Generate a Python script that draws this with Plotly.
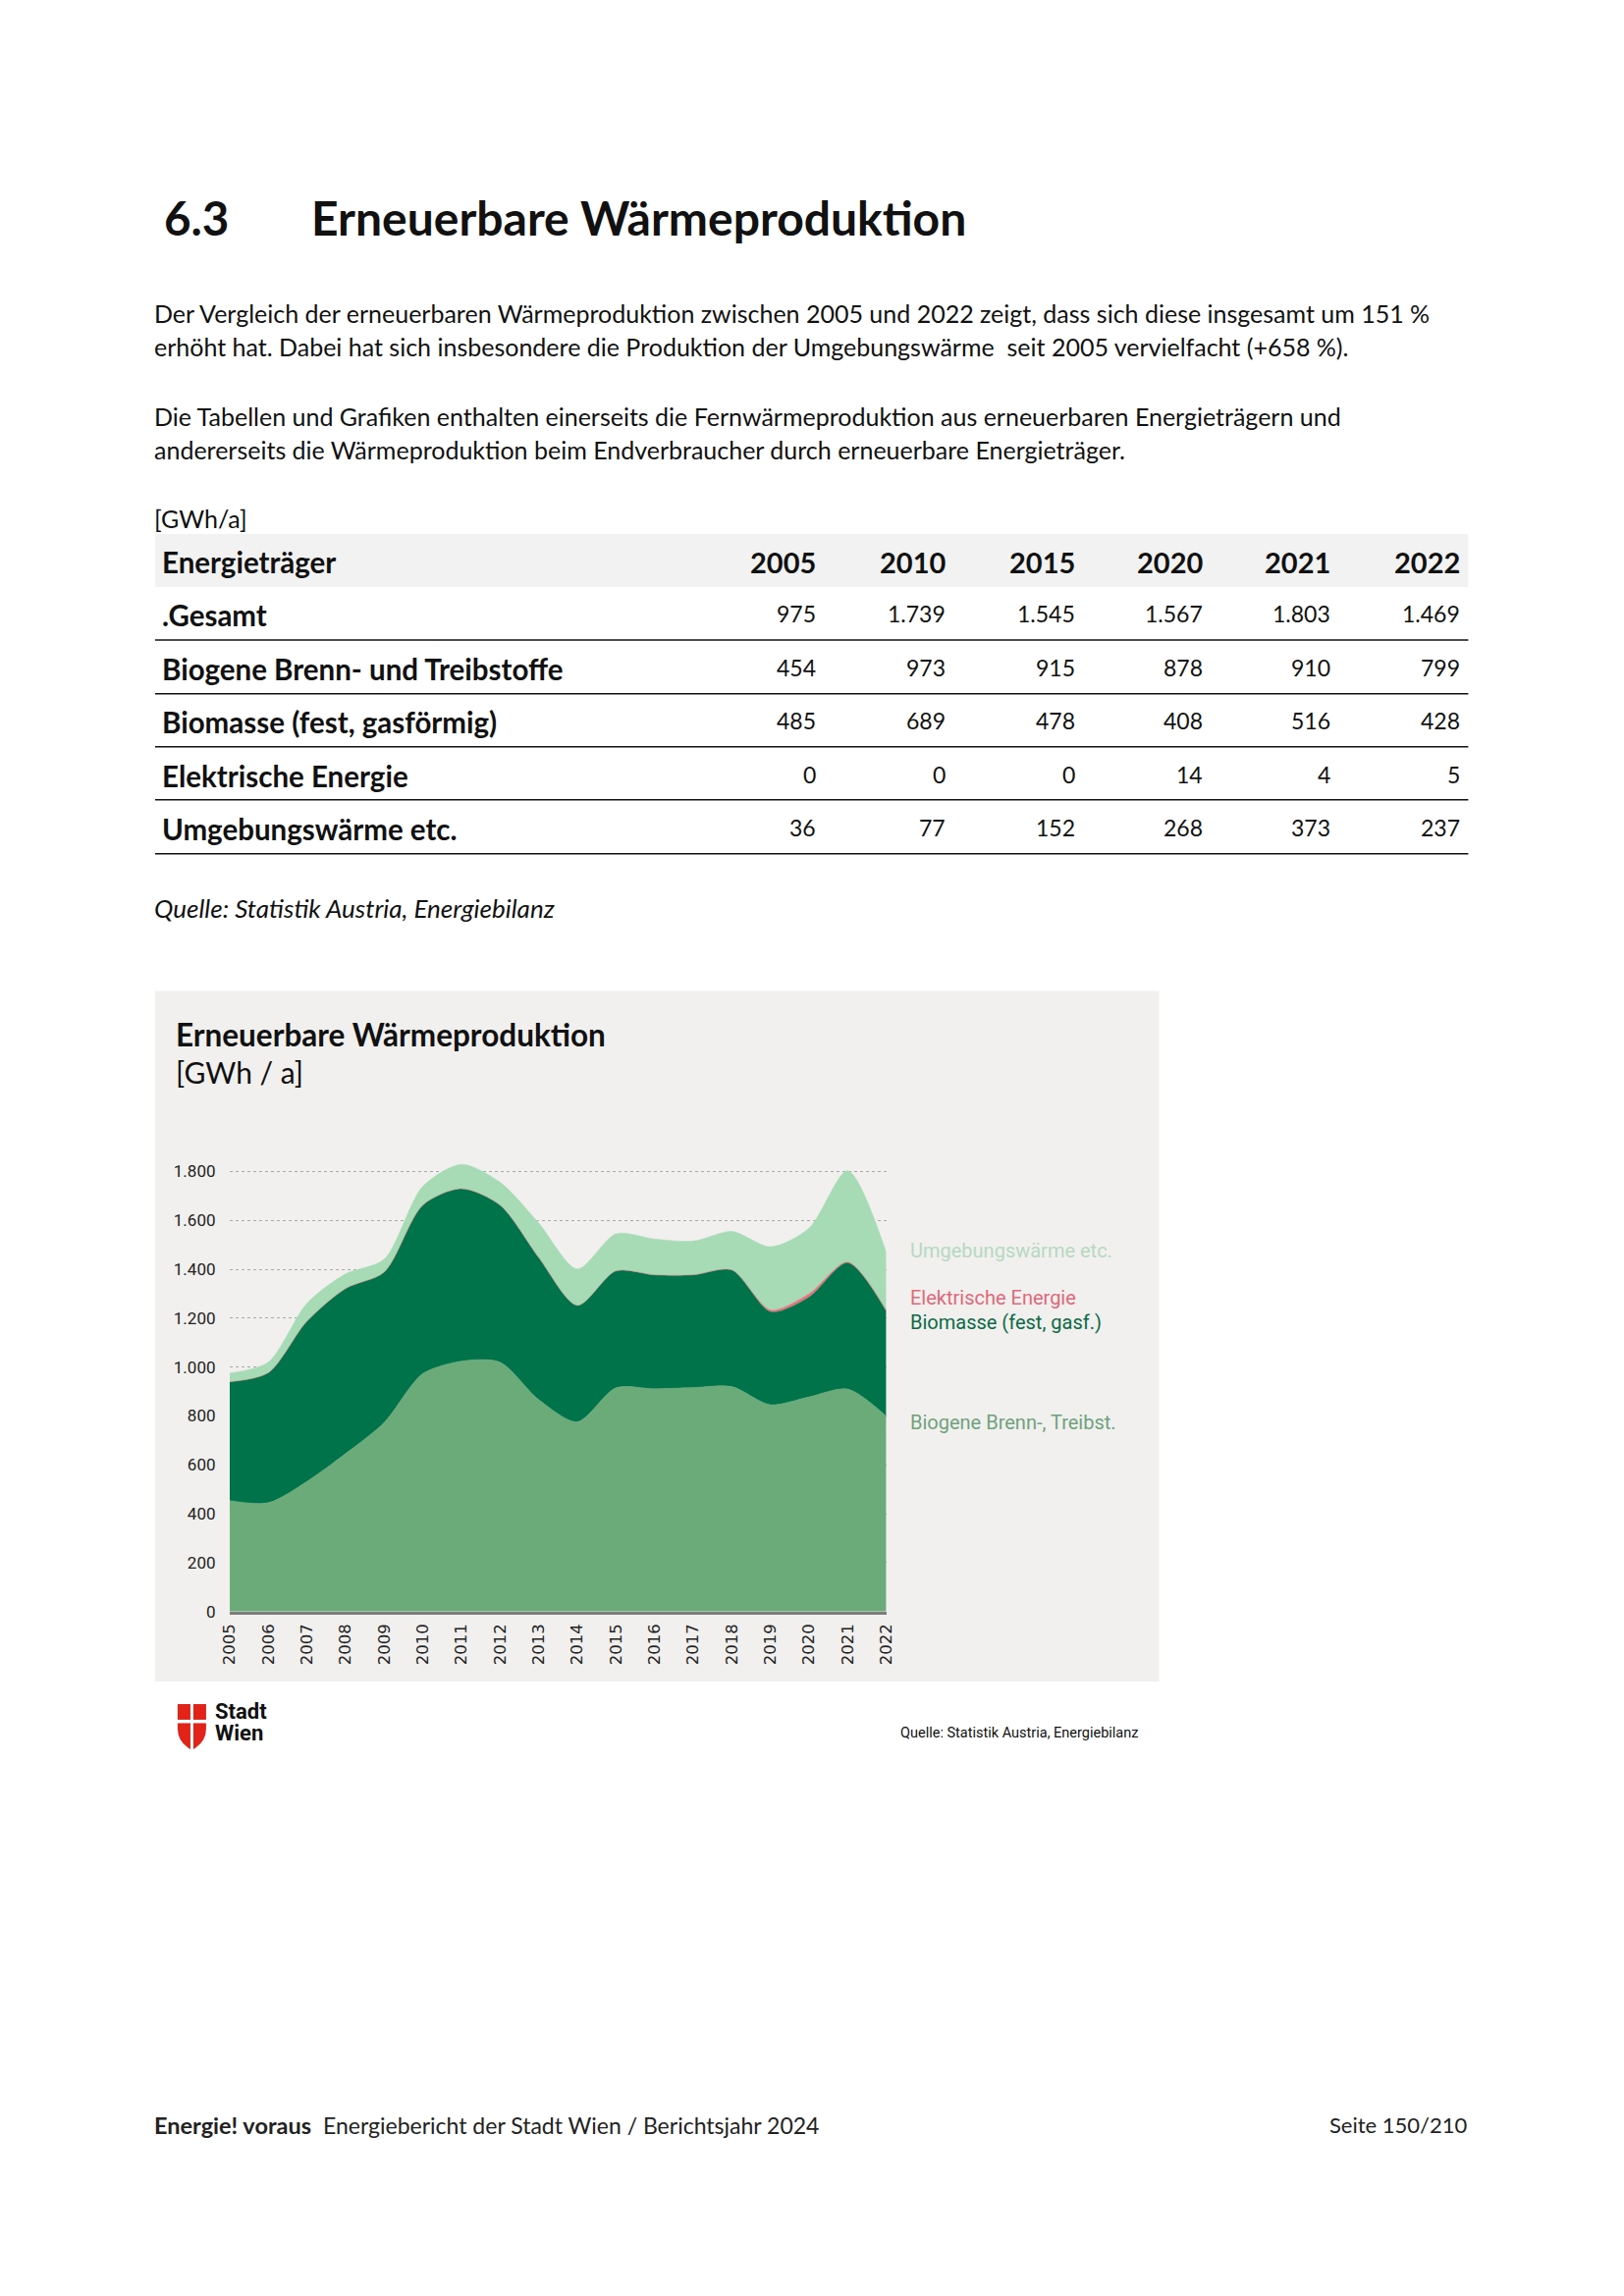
import plotly.graph_objects as go

W, H = 1654, 2339
OFF = 8
FW, FH = W - 2 * OFF, H - 2 * OFF

# measured page placement of the figure (offset / scale) used to map page pixels
SX, OX = 0.9888, 18.0
SY, OY = 0.9966, 7.5

# ---------------- data ----------------
years = list(range(2005, 2023))
biogene = [454, 445, 532, 646, 773, 973, 1024, 1020, 867, 776, 915, 911, 916, 920, 846, 878, 910, 799]
biomasse = [485, 531, 655, 675, 615, 689, 705, 642, 581, 476, 478, 466, 461, 477, 380, 408, 516, 428]
elektrisch = [0, 0, 0, 0, 0, 0, 0, 0, 0, 0, 0, 0, 0, 0, 8, 14, 4, 5]
umgebung = [36, 44, 74, 60, 53, 77, 100, 94, 141, 149, 152, 147, 138, 158, 258, 268, 373, 237]

table_years = ["2005", "2010", "2015", "2020", "2021", "2022"]
table_rows = [".Gesamt", "Biogene Brenn- und Treibstoffe", "Biomasse (fest, gasförmig)",
              "Elektrische Energie", "Umgebungswärme etc."]
gesamt = [975, 1739, 1545, 1567, 1803, 1469]
t_biogene = [454, 973, 915, 878, 910, 799]
t_biomasse = [485, 689, 478, 408, 516, 428]
t_elektrisch = [0, 0, 0, 14, 4, 5]
t_umgebung = [36, 77, 152, 268, 373, 237]
table_values = [gesamt, t_biogene, t_biomasse, t_elektrisch, t_umgebung]

y_ticks = [0, 200, 400, 600, 800, 1000, 1200, 1400, 1600, 1800]

# ---------------- helpers ----------------
def px(x):
    return ((x - OX) / SX) / FW

def py(y):
    return 1 - ((y - OY) / SY) / FH

DOC = "Lato, 'Noto Sans', sans-serif"
NARROW = "Roboto, sans-serif"

annotations = []
shapes = []

def text(x, y, s, size, color="#111111", bold=False, anchor="left", family=DOC, italic=False):
    if bold:
        s = "<b>" + s + "</b>"
    if italic:
        s = "<i>" + s + "</i>"
    annotations.append(dict(
        x=px(x), y=py(y), xref="paper", yref="paper", text=s, showarrow=False,
        xanchor=anchor, yanchor="middle", font=dict(size=size, color=color, family=family),
        borderpad=0))

def rect(x0, y0, x1, y1, color, layer="below"):
    shapes.append(dict(type="rect", xref="paper", yref="paper", x0=px(x0), y0=py(y1),
                       x1=px(x1), y1=py(y0), fillcolor=color, line=dict(width=0), layer=layer))

def hline(x0, x1, y, color="#111111", width=1.5):
    shapes.append(dict(type="line", xref="paper", yref="paper", x0=px(x0), x1=px(x1),
                       y0=py(y), y1=py(y), line=dict(color=color, width=width), layer="above"))

def fmt(v):
    return f"{v:,}".replace(",", ".")

# ---------------- page texts ----------------
text(166, 221, "6.3", 47.5, bold=True)
text(316, 221, "Erneuerbare Wärmeproduktion", 48, bold=True)

text(156, 319, "Der Vergleich der erneuerbaren Wärmeproduktion zwischen 2005 und 2022 zeigt, dass sich diese insgesamt um 151 %", 25)
text(156, 353, "erhöht hat. Dabei hat sich insbesondere die Produktion der Umgebungswärme  seit 2005 vervielfacht (+658 %).", 25)
text(156, 424, "Die Tabellen und Grafiken enthalten einerseits die Fernwärmeproduktion aus erneuerbaren Energieträgern und", 25)
text(156, 458, "andererseits die Wärmeproduktion beim Endverbraucher durch erneuerbare Energieträger.", 25)

text(156, 528, "[GWh/a]", 25)

# ---------------- table ----------------
rect(158, 544, 1496, 598, "#f2f2f2")
col_x = [832, 964, 1096, 1226, 1357, 1489]
text(164, 573, "Energieträger", 29.5, bold=True)
for cx, yr in zip(col_x, table_years):
    text(cx, 573, yr, 29, bold=True, anchor="right")

row_y = [625, 680, 734, 789, 843]
line_y = [652, 707, 761, 815, 870]
for name, vals, ry, ly in zip(table_rows, table_values, row_y, line_y):
    text(164, ry + 2, name, 29.5, bold=True)
    for cx, v in zip(col_x, vals):
        text(cx, ry, fmt(v), 23, anchor="right")
    hline(158, 1496, ly)

text(156, 925, "Quelle: Statistik Austria, Energiebilanz", 26, italic=True)

# ---------------- chart panel ----------------
rect(158, 1010, 1181, 1714, "#f1f0ee")
text(178, 1054, "Erneuerbare Wärmeproduktion", 31.5, bold=True, color="#111111")
text(178, 1092, "[GWh / a]", 30, color="#111111")

text(926, 1275, "Umgebungswärme etc.", 20, color="#b6d9c1", family=NARROW)
text(926, 1323, "Elektrische Energie", 20, color="#e0697a", family=NARROW)
text(926, 1348, "Biomasse (fest, gasf.)", 20, color="#0b6b46", family=NARROW)
text(926, 1450, "Biogene Brenn-, Treibst.", 20, color="#6fa27d", family=NARROW)

# logo
shield = ("M {a},{b} L {c},{b} L {c},{d} Q {c},{e} {f},{g} Q {a},{e} {a},{d} Z").format(
    a=px(181), b=py(1737), c=px(210), d=py(1762), e=py(1776), f=px(195.5), g=py(1784))
shapes.append(dict(type="path", xref="paper", yref="paper", path=shield,
                   fillcolor="#e2231a", line=dict(width=0), layer="above"))
rect(194, 1736, 197, 1785, "white", layer="above")
rect(180, 1753, 211, 1756.5, "white", layer="above")
text(218, 1745, "Stadt", 22, bold=True, family="Roboto, sans-serif")
text(218, 1767, "Wien", 22, bold=True, family="Roboto, sans-serif")

text(1160, 1767, "Quelle: Statistik Austria, Energiebilanz", 14.5, anchor="right", family=NARROW)

# ---------------- footer ----------------
text(156, 2166, "Energie! voraus", 23.5, bold=True, color="#222222")
text(328, 2166, "Energiebericht der Stadt Wien / Berichtsjahr 2024", 23, color="#222222")
text(1497, 2166, "Seite 150/210", 22, anchor="right", color="#222222")

# ---------------- chart traces ----------------
fig = go.Figure()
series = [
    ("Biogene Brenn-, Treibst.", biogene, "#6baa79"),
    ("Biomasse (fest, gasf.)", biomasse, "#00734a"),
    ("Elektrische Energie", elektrisch, "#e5767f"),
    ("Umgebungswärme etc.", umgebung, "#a6dbb6"),
]
for name, vals, col in series:
    fig.add_trace(go.Scatter(
        x=years, y=vals, name=name, mode="lines", stackgroup="one",
        line=dict(width=0.5, color=col, shape="spline", smoothing=0.8),
        fillcolor=col, hoverinfo="skip", showlegend=False))

fig.update_layout(
    width=FW, height=FH, autosize=False,
    margin=dict(l=0, r=0, t=0, b=0, pad=0),
    paper_bgcolor="white", plot_bgcolor="rgba(0,0,0,0)",
    separators=",.",
    annotations=annotations, shapes=shapes,
    xaxis=dict(domain=[px(234), px(903)], range=[2005, 2022], tickmode="array",
               tickvals=years, ticktext=[str(y) for y in years], tickangle=-90,
               ticks="outside", ticklen=3, tickcolor="rgba(0,0,0,0)",
               showgrid=False, zeroline=False, showline=True, linecolor="#7d7d7d", linewidth=3,
               tickfont=dict(size=16.5, color="#222222", family="'DejaVu Sans', sans-serif"),
               fixedrange=True),
    yaxis=dict(domain=[py(1642.7), py(1181.5)], range=[0, 1850], tickmode="array",
               tickvals=y_ticks, ticktext=[fmt(v) for v in y_ticks],
               ticks="outside", ticklen=10, tickcolor="rgba(0,0,0,0)",
               showgrid=True, gridcolor="#a9a9a9", griddash="dot", gridwidth=1,
               zeroline=False, showline=False,
               tickfont=dict(size=17, color="#222222", family=NARROW),
               fixedrange=True),
)

fig.write_html("out.html", config={"displayModeBar": False})
